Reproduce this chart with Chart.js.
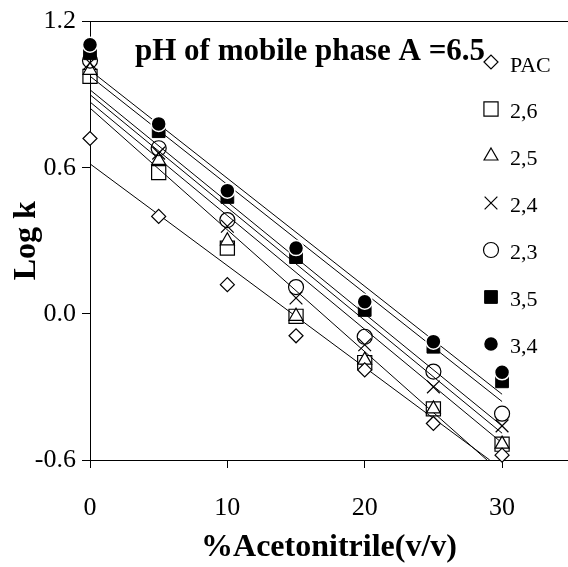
<!DOCTYPE html>
<html>
<head>
<meta charset="utf-8">
<script src="https://cdn.jsdelivr.net/npm/chart.js@4.4.1/dist/chart.umd.min.js"></script>
<style>
  html, body { margin: 0; padding: 0; background: #fff; overflow: hidden; }
  canvas { display: block; }
</style>
</head>
<body>
<canvas id="chart" width="568" height="567"></canvas>
<script>
// ─── DATA ─────────────────────────────────────────────────
const xValues = [0, 5, 10, 15, 20, 25, 30];
const xTicks = [0, 10, 20, 30];
const yTicks = [-0.6, 0.0, 0.6, 1.2];
const seriesNames = ['PAC', '2,6', '2,5', '2,4', '2,3', '3,5', '3,4'];

const pac = [0.72, 0.40, 0.12, -0.09, -0.23, -0.45, -0.58];
const s26 = [0.975, 0.58, 0.27, -0.01, -0.20, -0.39, -0.535];
const s25 = [1.00, 0.63, 0.30, -0.01, -0.19, -0.39, -0.535];
const s24 = [1.03, 0.66, 0.36, 0.065, -0.127, -0.30, -0.46];
const s23 = [1.04, 0.68, 0.385, 0.11, -0.094, -0.237, -0.41];
const s35 = [1.07, 0.75, 0.48, 0.233, 0.016, -0.135, -0.277];
const s34 = [1.105, 0.78, 0.506, 0.27, 0.05, -0.114, -0.24];

// fitted lines (start at x=0, end point)
const fitStartY = [0.616, 0.845, 0.87, 0.90, 0.92, 0.976, 1.0];
const fitEndX = [29.1, 28.9, 30, 30, 30, 30, 30];
const fitEndY = [-0.6, -0.6, -0.53, -0.49, -0.46, -0.36, -0.33];

const FONT = '"Liberation Serif", "Times New Roman", serif';

const styles = {
    'PAC': { pointStyle: 'rectRot', pointRadius: 7, backgroundColor: '#fff', borderColor: '#000', borderWidth: 1.2, order: 3 },
    '2,6': { pointStyle: 'rect', pointRadius: 10, backgroundColor: 'rgba(0,0,0,0)', borderColor: '#000', borderWidth: 1.2, order: 7 },
    '2,5': { pointStyle: 'triangle', pointRadius: 8, backgroundColor: '#fff', borderColor: '#000', borderWidth: 1.2, order: 6 },
    '2,4': { pointStyle: 'crossRot', pointRadius: 9, backgroundColor: '#000', borderColor: '#000', borderWidth: 1.2, order: 4 },
    '2,3': { pointStyle: 'circle', pointRadius: 7.5, backgroundColor: 'rgba(0,0,0,0)', borderColor: '#000', borderWidth: 1.2, order: 5 },
    '3,5': { pointStyle: 'rect', pointRadius: 9, backgroundColor: '#000', borderColor: '#000', borderWidth: 1, order: 2 },
    '3,4': { pointStyle: 'circle', pointRadius: 7.5, backgroundColor: '#000', borderColor: '#fff', borderWidth: 1.5, order: 1 },
};

const seriesValues = [pac, s26, s25, s24, s23, s35, s34];

const pointSets = seriesNames.map((name, i) => Object.assign({
    type: 'scatter',
    label: name,
    data: xValues.map((x, j) => ({ x: x, y: seriesValues[i][j] })),
    showLine: false,
    clip: false,
}, styles[name]));

const fitSets = seriesNames.map((name, i) => ({
    type: 'line',
    label: 'fit ' + name,
    data: [{ x: 0, y: fitStartY[i] }, { x: fitEndX[i], y: fitEndY[i] }],
    borderColor: '#000',
    borderWidth: 1,
    pointRadius: 0,
    fill: false,
    tension: 0,
    order: 10,
}));

// legend drawn inside the plot, on the right
const sideLegend = {
    id: 'sideLegend',
    afterDatasetsDraw(chart) {
        const ctx = chart.ctx;
        ctx.save();
        seriesNames.forEach((name, i) => {
            const s = styles[name];
            const y = 62 + i * 47;
            ctx.fillStyle = s.backgroundColor;
            ctx.strokeStyle = s.borderColor;
            ctx.lineWidth = s.borderWidth;
            Chart.helpers.drawPoint(ctx, {
                pointStyle: s.pointStyle, radius: s.pointRadius,
                borderWidth: s.borderWidth, rotation: 0
            }, 491, y);
            ctx.fillStyle = '#000';
            ctx.font = '22px ' + FONT;
            ctx.textBaseline = 'middle';
            ctx.textAlign = 'left';
            ctx.fillText(name, 510, y + (i === 0 ? 4 : 3));
        });
        ctx.restore();
    }
};

const innerTitle = {
    id: 'innerTitle',
    afterDraw(chart) {
        const ctx = chart.ctx;
        ctx.save();
        ctx.fillStyle = '#000';
        ctx.font = 'bold 31px ' + FONT;
        ctx.textBaseline = 'alphabetic';
        ctx.textAlign = 'left';
        ctx.fillText('pH of mobile phase A =6.5', 135, 60);
        ctx.restore();
    }
};

const noSidePad = (s) => { s.paddingLeft = 0; s.paddingRight = 0; };

new Chart(document.getElementById('chart'), {
    data: { datasets: fitSets.concat(pointSets) },
    plugins: [sideLegend, innerTitle],
    options: {
        responsive: false,
        animation: false,
        devicePixelRatio: 1,
        // no automatic room for the markers: the plot runs to the right edge
        layout: { padding: 0, autoPadding: false },
        plugins: { legend: { display: false }, tooltip: { enabled: false } },
        scales: {
            x: {
                type: 'linear', position: 'bottom',
                min: 0, max: 34.8,
                afterBuildTicks: (s) => { s.ticks = xTicks.map(v => ({ value: v })); },
                afterFit: (s) => { s.height = 107; noSidePad(s); },
                grid: { display: true, drawOnChartArea: false, drawTicks: true, tickLength: 8, color: '#000' },
                border: { display: true, color: '#000', width: 1 },
                ticks: { color: '#000', font: { family: FONT, size: 26 }, padding: 25, maxRotation: 0,
                    callback: (v) => String(v) },
                title: { display: true, text: '%Acetonitrile(v/v)', color: '#000',
                    font: { family: FONT, size: 32, weight: 'bold' }, padding: { top: 0, bottom: 0 } },
            },
            xTop: {
                type: 'linear', position: 'top',
                min: 0, max: 34.8,
                afterFit: (s) => { s.height = 21; noSidePad(s); },
                grid: { display: false },
                border: { display: true, color: '#000', width: 1 },
                ticks: { display: false },
            },
            y: {
                type: 'linear', position: 'left',
                min: -0.6, max: 1.2,
                afterBuildTicks: (s) => { s.ticks = yTicks.map(v => ({ value: v })); },
                afterFit: (s) => { s.width = 90; },
                grid: { display: true, drawOnChartArea: false, drawTicks: true, tickLength: 8, color: '#000' },
                border: { display: true, color: '#000', width: 1 },
                ticks: { color: '#000', font: { family: FONT, size: 26 }, padding: 6,
                    callback: (v) => v.toFixed(1) },
                title: { display: true, text: 'Log k', color: '#000',
                    font: { family: FONT, size: 32, weight: 'bold' }, padding: { top: 8, bottom: 0 } },
            },
        }
    }
});
</script>
</body>
</html>
